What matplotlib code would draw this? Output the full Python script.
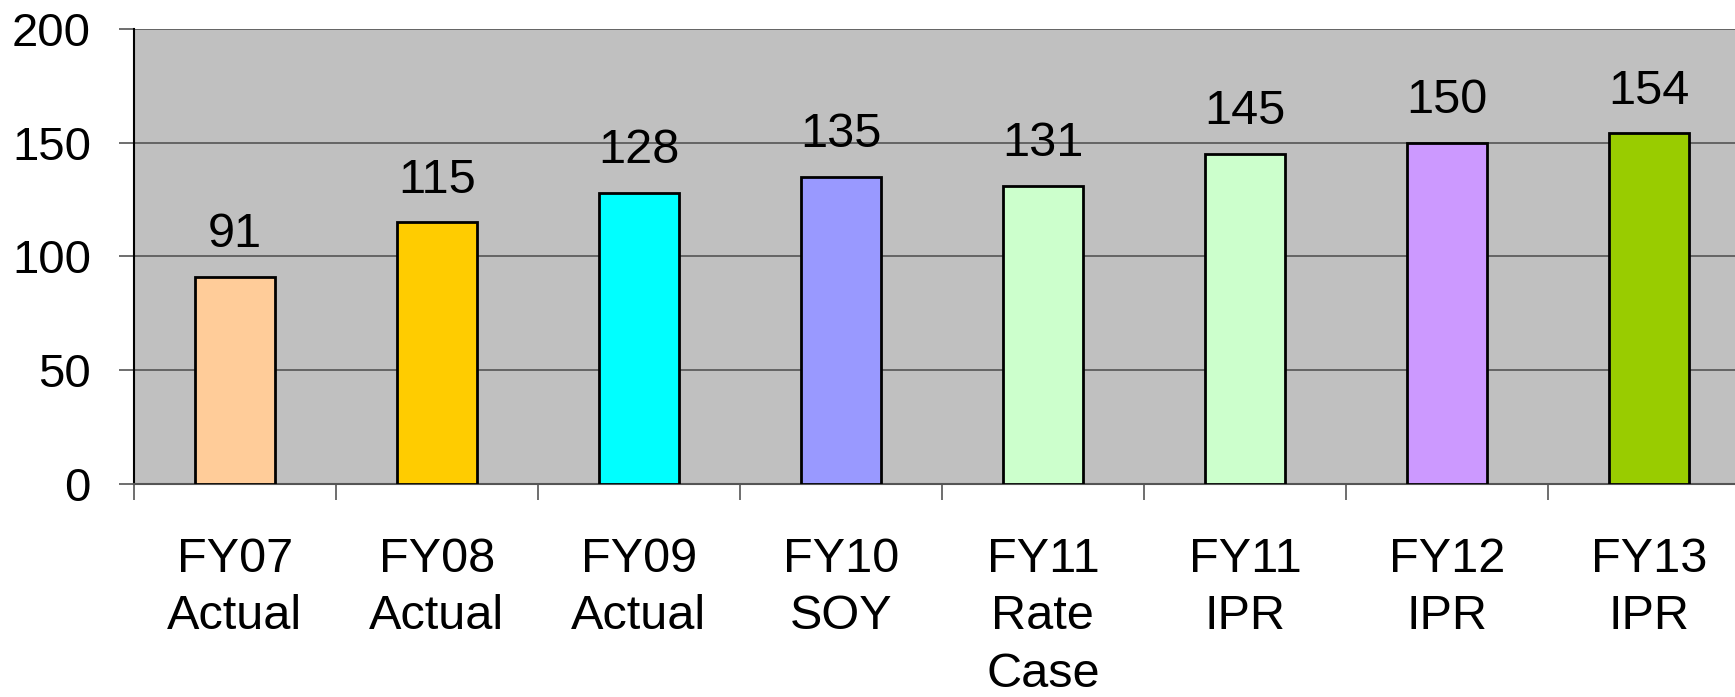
import matplotlib.pyplot as plt
import numpy as np

categories = ["FY07\nActual", "FY08\nActual", "FY09\nActual", "FY10\nSOY",
              "FY11\nRate\nCase", "FY11\nIPR", "FY12\nIPR", "FY13\nIPR"]
values = [91, 115, 128, 135, 131, 145, 150, 154]
colors = ["#FFCC99", "#FFCC00", "#00FFFF", "#9999FF",
          "#CCFFCC", "#CCFFCC", "#CC99FF", "#99CC00"]

plt.rcParams['font.family'] = ['Liberation Sans', 'DejaVu Sans']

fig = plt.figure(figsize=(17.35, 6.97), dpi=100)
ax = fig.add_axes([0.0772, 0.3056, 1.0086 - 0.0772, 0.9588 - 0.3056])
ax.set_facecolor("#C0C0C0")

x = np.arange(len(values))
bars = ax.bar(x, values, width=0.4, color=colors, edgecolor="black", linewidth=2, zorder=3)

for xi, v in zip(x, values):
    ax.annotate(str(v), (xi, v), xytext=(0, 14), textcoords="offset points",
                ha="center", va="bottom", fontsize=35)

ax.set_xlim(-0.5, len(values) - 0.5)
ax.set_ylim(0, 200)
ax.set_yticks([0, 50, 100, 150, 200])
ax.yaxis.grid(True, color="#555555", linewidth=1.2, zorder=1)
ax.set_axisbelow(True)

# ticks at category boundaries, labels centered under bars
ax.set_xticks(np.arange(-0.5, len(values)), minor=False)
ax.set_xticklabels([])
ax.set_xticks(x, minor=True)
ax.set_xticklabels(categories, minor=True, fontsize=35, linespacing=1.36)
ax.tick_params(axis="x", which="major", length=11.5, width=1.2, color="#555555")
ax.tick_params(axis="x", which="minor", length=0, pad=38)
ax.tick_params(axis="y", length=11, width=1.2, color="#555555", labelsize=34, pad=20)

for s in ["top", "right"]:
    ax.spines[s].set_visible(False)
ax.spines["left"].set_color("black")
ax.spines["left"].set_linewidth(1.5)
ax.spines["bottom"].set_color("#555555")
ax.spines["bottom"].set_linewidth(1.5)

fig.savefig("out.png", dpi=100)
